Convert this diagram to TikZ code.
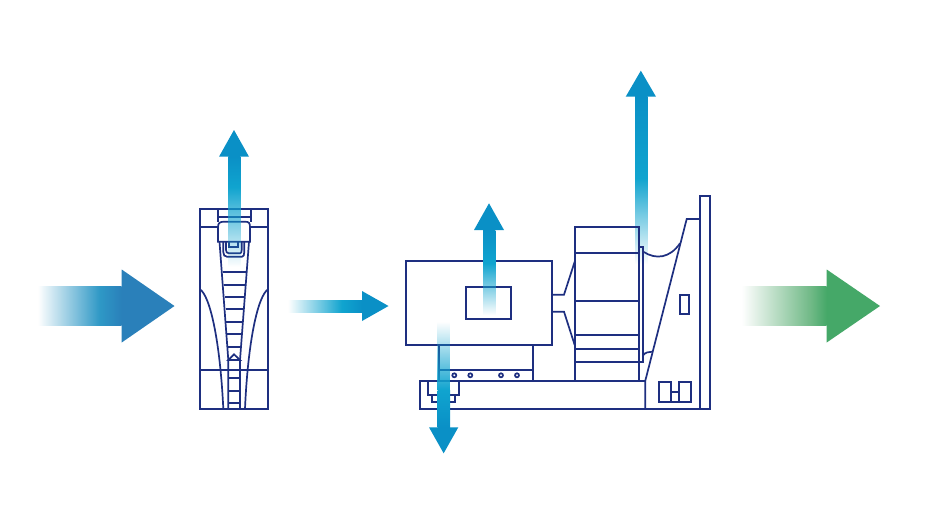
\documentclass[tikz,border=0pt]{standalone}
\usetikzlibrary{fadings}
\definecolor{navy}{HTML}{1E2F80}
\definecolor{cy}{HTML}{10A4CF}
\definecolor{cyh}{HTML}{0A90C6}
\definecolor{bl}{HTML}{2A80BA}
\definecolor{blsh}{HTML}{2E98C6}
\definecolor{gr}{HTML}{45A868}
\definecolor{grsh}{HTML}{72BA88}
\tikzfading[name=fadeE,left color=transparent!100,right color=transparent!0]
\tikzfading[name=fadeN,bottom color=transparent!100,top color=transparent!0]
\tikzfading[name=fadeS,top color=transparent!100,bottom color=transparent!0]
\tikzset{ln/.style={draw=navy,line width=1.7pt,line join=miter}}
% upward arrow: shaft x1,x2; head x1,x2; head base y; full y; tip y; fade end y
\newcommand\arrowUp[8]{%
 \fill[cyh] (#3,#5) -- (#4,#5) -- ({(#3+#4)/2},#7) -- cycle;
 \shade[top color=cyh,bottom color=cy] (#1,#5) rectangle (#2,#6);
 \fill[cy,path fading=fadeN,fit fading=false,fading transform={shift={({(#1+#2)/2},{(#6+#8)/2})},yscale={(#8-#6)/50.2}}] ({#1-0.4},#6) rectangle ({#2+0.4},#8);
}
% downward arrow: shaft x1,x2; head x1,x2; head base y; full y; tip y; fade start y
\newcommand\arrowDown[8]{%
 \fill[cyh] (#3,#5) -- (#4,#5) -- ({(#3+#4)/2},#7) -- cycle;
 \shade[top color=cy,bottom color=cyh] (#1,#6) rectangle (#2,#5);
 \fill[cy,path fading=fadeS,fit fading=false,fading transform={shift={({(#1+#2)/2},{(#6+#8)/2})},yscale={(#6-#8)/50.2}}] ({#1-0.4},#8) rectangle ({#2+0.4},#6);
}
% head colour, shaft colour, x0, xfull, xbase, xtip, head half, shaft y1, y2
\newcommand\arrowRight[9]{%
 \fill[#1] (#5,306-#7) -- (#6,306) -- (#5,306+#7) -- cycle;
 \shade[left color=#2,right color=#1] (#4,#8) rectangle (#5,#9);
 \fill[#2,path fading=fadeE,fit fading=false,fading transform={shift={({(#3+#4)/2},{(#8+#9)/2})},xscale={(#4-#3)/50.2}}] (#3,{#8-0.4}) rectangle (#4,{#9+0.4});
}
\begin{document}
\begin{tikzpicture}[x=1pt,y=-1pt]
\useasboundingbox (0,0) rectangle (930,531);
\fill[white] (0,0) rectangle (930,531);
% horizontal arrows
\arrowRight{bl}{blsh}{38}{100}{121.7}{174.5}{36.5}{286.7}{325.7}
\arrowRight{cyh}{cy}{288}{342}{362}{388.5}{15}{300}{312.3}
\arrowRight{gr}{grsh}{742}{810}{826.7}{880}{36.5}{286.7}{325.7}
% tall arrow, below the fan lines
\arrowUp{635}{647.7}{625.7}{656}{96.7}{178}{70.7}{264}
% drive
\draw[ln] (200,209.3) rectangle (268,408.7);
\draw[ln] (200,226.7) -- (218,226.7) (250,226.7) -- (268,226.7);
\draw[ln] (200,369.7) -- (268,369.7);
\draw[ln] (218,209.3) -- (218,222) (251,209.3) -- (251,222);
\draw[ln] (218,216.7) -- (250,216.7);
\draw[ln] (218,241.7) -- (218,227) .. controls (218,223) and (220,221.7) .. (224,221.7) -- (245,221.7) .. controls (249,221.7) and (250,223) .. (250,227) -- (250,241.7) -- cycle;
\draw[ln] (219.5,241.7) -- (228.3,360) -- (228.3,408.7);
\draw[ln] (249,241.7) -- (240,360) -- (240,408.7);
\foreach \ya/\xa/\xb in {271.7/222.5/246,285/223.6/245,296.7/224.5/244,309.3/225.5/243,321.7/226.3/242,334.3/227/241.5,346.7/228/240.5,370/228.3/240,377.7/228.3/240,390.7/228.3/240,403.3/228.3/240}
 \draw[ln] (\xa,\ya) -- (\xb,\ya);
\draw[ln] (228.3,360) -- (234,354.3) -- (240,360) -- cycle;
\draw[ln] (200,289.3) .. controls (210,296) and (220,340) .. (223.3,408.7);
\draw[ln] (268,289.3) .. controls (258,296) and (248,340) .. (245,408.7);
\draw[ln] (223.3,241.7) -- (223.3,252) .. controls (223.3,255) and (224.5,256.7) .. (227,256.7) -- (242,256.7) .. controls (243.5,256.7) and (244.3,255) .. (244.3,252) -- (244.3,241.7);
\draw[ln] (226,241.7) -- (226,250) .. controls (226,252) and (227,253.3) .. (229,253.3) -- (240,253.3) .. controls (241,253.3) and (241.7,252) .. (241.7,250) -- (241.7,241.7);
\draw[ln] (229.3,241.7) -- (229.3,247.3) -- (238.3,247.3) -- (238.3,241.7);
% motor
\draw[ln] (405.7,261.3) rectangle (552.3,345);
\draw[ln] (465.7,287.3) rectangle (511.3,319.3);
\draw[ln] (438.7,345) -- (438.7,380.7) (532.7,345) -- (532.7,380.7);
\draw[ln] (438.7,369.7) -- (532.7,369.7);
\foreach \cx in {454.3,470.3,501,517} \draw[ln] (\cx,375.3) circle (2);
% base frame: its top edge stops at the stand
\draw[ln] (645.3,380.7) -- (420,380.7) -- (420,408.7) -- (710.3,408.7);
\draw[ln] (427.7,380.7) -- (427.7,394.7) -- (459.3,394.7) -- (459.3,380.7);
\draw[ln] (431.7,394.7) -- (431.7,402) -- (455.3,402) -- (455.3,394.7);
% coupling
\draw[ln] (552.3,294.7) -- (564,294.7) -- (574.7,261.7);
\draw[ln] (552.3,311.7) -- (564,311.7) -- (574.7,345);
% fan
\draw[ln] (574.7,227.3) rectangle (639,380.7);
\foreach \ya in {252.7,301,335,349,362.3} \draw[ln] (574.7,\ya) -- (639,\ya);
\draw[ln] (639,247.3) -- (643.3,247.3) -- (643.3,362.3) -- (639,362.3);
\draw[ln] (643.3,251.7) .. controls (656,260) and (670,258) .. (680,243.3);
\draw[ln] (643.3,355) .. controls (645,352.5) and (649,351.7) .. (652.3,351.7);
% stand
\draw[ln] (700,219) -- (686.7,219) -- (645.3,380.7) -- (645.3,408.7);
\draw[ln] (700,196) rectangle (710.3,408.7);
\draw[ln] (680,294.7) rectangle (689.3,313.7);
\draw[ln] (659.3,382.3) rectangle (671.3,402);
\draw[ln] (679.3,382.3) rectangle (691.3,402);
\draw[ln] (671.3,392) -- (679.3,392) (671.3,402) -- (679.3,402);
% arrows over the lines
\arrowUp{228.3}{240.3}{219}{249}{156.7}{187}{130}{266.7}
\arrowUp{483}{495.3}{474}{504}{230}{263}{203.3}{315}
\arrowDown{437.7}{450}{429}{458.3}{427.3}{390}{453.3}{321.7}
\end{tikzpicture}
\end{document}
